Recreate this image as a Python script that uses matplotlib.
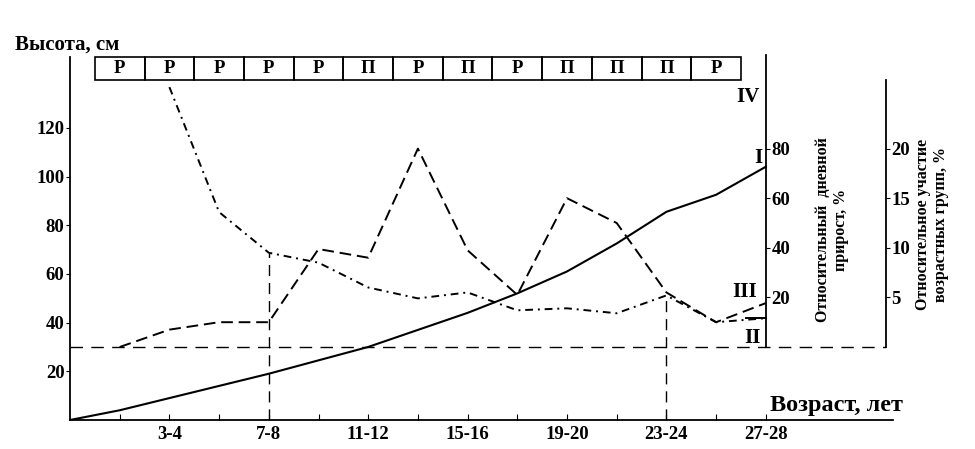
import matplotlib.pyplot as plt
from matplotlib.patches import Rectangle

plt.rcParams['font.family'] = ['Liberation Serif', 'DejaVu Serif']
plt.rcParams['font.weight'] = 'bold'

# age groups (x = 1..14), x = 0 is birth
groups = ["1-2", "3-4", "5-6", "7-8", "9-10", "11-12", "13-14", "15-16",
          "17-18", "19-20", "21-22", "23-24", "25-26", "27-28"]

# I - height, cm (x = 0..14)
height = [0, 4, 9, 14, 19, 24.5, 30, 37, 44, 52, 61, 72.5, 85.5, 92.5, 104]
# III - relative daily growth, % (x = 1..14)
growth = [0, 7, 10, 10, 39.5, 36, 80, 39, 21, 60, 50, 22, 10, 17.7]
# II - relative share of age groups, % (x = 2..14)
share = [26.2, 13.6, 9.5, 8.5, 6.0, 4.9, 5.5, 3.7, 3.9, 3.4, 5.2, 2.5, 2.9]
# IV - phases by age group (x = 1..13)
phases = ['Р', 'Р', 'Р', 'Р', 'Р', 'П', 'Р', 'П', 'Р', 'П', 'П', 'П', 'Р']
marked = [4, 12]

fig = plt.figure(figsize=(9.75, 4.49), dpi=100)
ax = fig.add_axes([70 / 975, 29 / 449, 823 / 975, 363 / 449])
ax.set_xlim(0, 823 / 49.7)
ax.set_ylim(0, 363 / 2.435)
for s in ['top', 'right']:
    ax.spines[s].set_visible(False)
ax.spines['left'].set_linewidth(1.3)
ax.spines['bottom'].set_linewidth(1.3)

ax.set_yticks([20, 40, 60, 80, 100, 120])
ax.tick_params(axis='y', direction='out', length=3, labelsize=13.5, pad=1)
ax.set_xticks(range(1, 15))
ax.set_xticklabels([g if i % 2 == 1 else '' for i, g in enumerate(groups)])
ax.tick_params(axis='x', direction='in', length=4, labelsize=13.5, pad=4)

# right axis 1: relative daily growth
ax1 = ax.twinx()
ax1.set_ylim(-73 / 2.48, (363 - 73) / 2.48)
for s in ['top', 'left', 'bottom']:
    ax1.spines[s].set_visible(False)
ax1.spines['right'].set_position(('data', 14))
ax1.spines['right'].set_bounds(0, 292 / 2.48)
ax1.spines['right'].set_linewidth(1.3)
ax1.set_yticks([20, 40, 60, 80])
ax1.tick_params(axis='y', direction='out', length=3, labelsize=13.5, pad=1)

# right axis 2: share of age groups
ax2 = ax.twinx()
ax2.set_ylim(-73 / 9.92, (363 - 73) / 9.92)
for s in ['top', 'left', 'bottom']:
    ax2.spines[s].set_visible(False)
ax2.spines['right'].set_position(('data', 816 / 49.7))
ax2.spines['right'].set_bounds(0, 267 / 9.92)
ax2.spines['right'].set_linewidth(1.3)
ax2.set_yticks([5, 10, 15, 20])
ax2.tick_params(axis='y', direction='out', length=3, labelsize=13.5, pad=1)

# curves
ax.plot(range(0, 15), height, color='black', lw=1.5)
ax1.plot(range(1, 15), growth, color='black', lw=1.4, dashes=(6, 3))
ax2.plot(range(2, 15), share, color='black', lw=1.4, dashes=(4, 2.5, 1, 2.5))
ax2.plot([13.6, 14], [share[-1], share[-1]], color='black', lw=1.4)
ax1.plot([0, 816 / 49.7], [0, 0], color='black', lw=1.0, dashes=(9, 6))
ax2.vlines(marked, ax2.get_ylim()[0], [share[m - 2] for m in marked],
           color='black', lw=1.0, linestyles=(0, (8, 5)))

# phase band
y0, y1 = 139.6, 149.0
for i, p in enumerate(phases):
    ax.add_patch(Rectangle((i + 0.5, y0), 1, y1 - y0, fill=False,
                           edgecolor='black', lw=1.2, clip_on=False))
    ax.text(i + 1, (y0 + y1) / 2, p, ha='center', va='center', fontsize=13.5)

# curve labels
ax.text(13.64, 132.6, 'IV', ha='center', va='center', fontsize=15)
ax.text(13.85, 107.6, 'I', ha='center', va='center', fontsize=15)
ax.text(13.58, 52.6, 'III', ha='center', va='center', fontsize=15)
ax.text(13.74, 33.5, 'II', ha='center', va='center', fontsize=15)

fig.text(15 / 975, 1 - 45 / 449, 'Высота, см', ha='left', va='center', fontsize=15)
fig.text(770 / 975, 1 - 406 / 449, 'Возраст, лет', ha='left', va='center', fontsize=17.5)
fig.text(832 / 975, 1 - 230 / 449, 'Относительный  дневной\nприрост, %',
         rotation=90, ha='center', va='center', multialignment='center', fontsize=11.5)
fig.text(932 / 975, 1 - 224 / 449, 'Относительное участие\nвозрастных групп, %',
         rotation=90, ha='center', va='center', multialignment='center', fontsize=11.5)

fig.savefig('out.png', dpi=100)
